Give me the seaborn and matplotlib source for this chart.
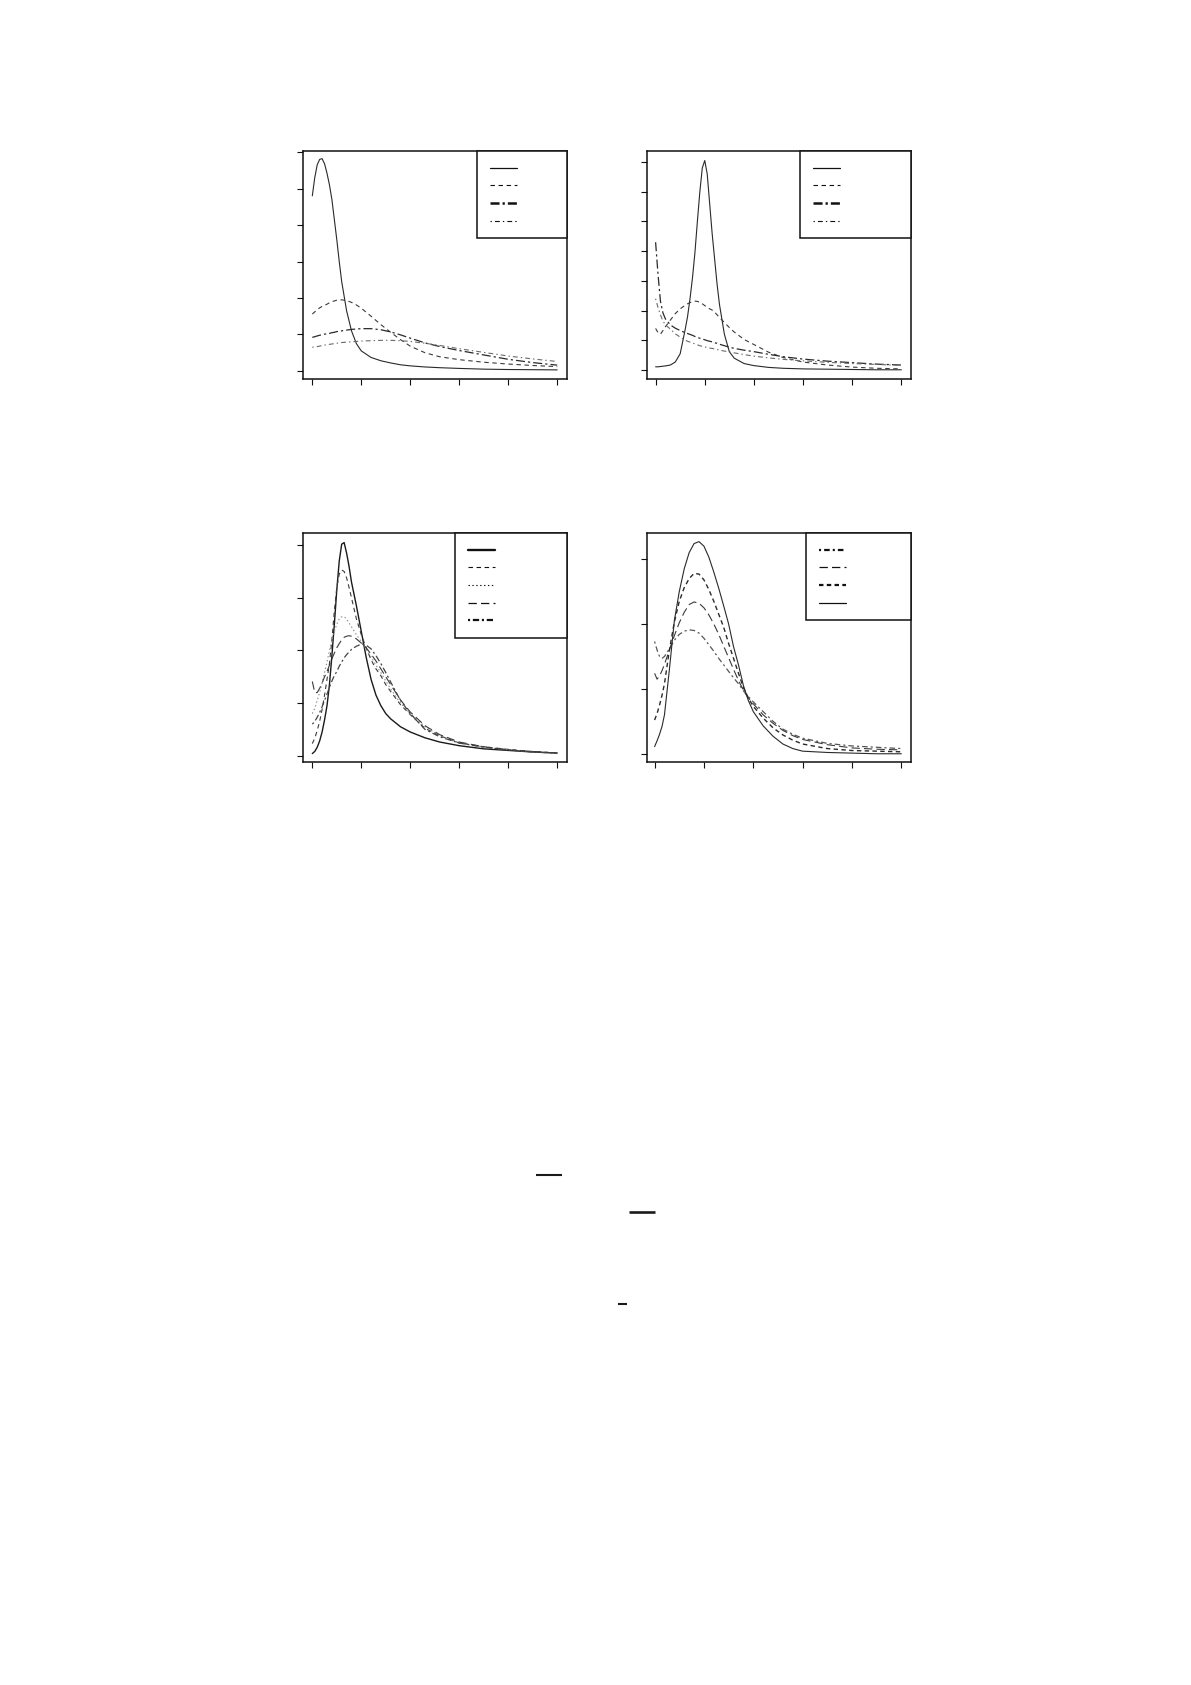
import matplotlib
matplotlib.use("Agg")
import matplotlib.pyplot as plt
from matplotlib.patches import Rectangle
from matplotlib.lines import Line2D
import seaborn as sns
import numpy as np

sns.set_style("ticks")
plt.rcParams["lines.scale_dashes"] = False

W, H = 1191, 1685

# ---- data (x and y in tick units, no labels survive) ----
# panel 1 (top left)
p1_x = [0, 0.05, 0.1, 0.15, 0.2, 0.25, 0.3, 0.35, 0.4, 0.45, 0.5, 0.55, 0.6, 0.7, 0.8,
        0.9, 1.0, 1.2, 1.4, 1.6, 1.8, 2.0, 2.3, 2.6, 3.0, 3.5, 4.0, 4.5, 5.0]
p1_solid = [4.80, 5.30, 5.65, 5.80, 5.82, 5.68, 5.42, 5.10, 4.70, 4.15, 3.60, 3.00, 2.45, 1.65, 1.10,
            0.75, 0.55, 0.37, 0.28, 0.22, 0.17, 0.14, 0.11, 0.09, 0.07, 0.05, 0.04, 0.035, 0.03]
p1_dash = [1.56, 1.62, 1.68, 1.73, 1.77, 1.80, 1.83, 1.87, 1.90, 1.92, 1.94, 1.95, 1.95, 1.93, 1.88,
           1.81, 1.72, 1.50, 1.27, 1.06, 0.86, 0.68, 0.50, 0.39, 0.31, 0.24, 0.19, 0.15, 0.12]
p1_long = [0.92, 0.94, 0.96, 0.98, 0.99, 1.01, 1.02, 1.03, 1.05, 1.06, 1.08, 1.09, 1.10, 1.12, 1.14,
           1.15, 1.16, 1.16, 1.13, 1.07, 0.99, 0.90, 0.77, 0.67, 0.56, 0.44, 0.32, 0.23, 0.16]
p1_dotdash = [0.65, 0.66, 0.67, 0.68, 0.70, 0.71, 0.72, 0.73, 0.74, 0.75, 0.76, 0.77, 0.78, 0.79, 0.80,
              0.81, 0.82, 0.83, 0.84, 0.84, 0.83, 0.81, 0.76, 0.70, 0.61, 0.51, 0.41, 0.33, 0.26]

# panel 2 (top right)
p2_x = [0, 0.05, 0.1, 0.15, 0.2, 0.3, 0.4, 0.5, 0.6, 0.65, 0.7, 0.75, 0.8, 0.85, 0.9, 0.95, 1.0,
        1.05, 1.1, 1.15, 1.2, 1.25, 1.3, 1.4, 1.5, 1.6, 1.8, 2.0, 2.3, 2.6, 3.0, 3.5, 4.0, 4.5, 5.0]
p2_solid = [0.11, 0.11, 0.12, 0.13, 0.14, 0.17, 0.27, 0.55, 1.35, 1.80, 2.40, 3.10, 3.95, 5.00, 6.00,
            6.80, 7.05, 6.60, 5.60, 4.60, 3.75, 2.90, 2.20, 1.20, 0.62, 0.40, 0.22, 0.15, 0.09, 0.06,
            0.04, 0.03, 0.02, 0.01, 0.01]
p2_dash = [1.40, 1.26, 1.21, 1.33, 1.46, 1.68, 1.90, 2.06, 2.18, 2.23, 2.27, 2.30, 2.32, 2.31, 2.28,
           2.23, 2.17, 2.11, 2.06, 2.02, 1.95, 1.86, 1.77, 1.60, 1.43, 1.28, 1.03, 0.86, 0.60, 0.42,
           0.27, 0.17, 0.10, 0.06, 0.04]
p2_long = [4.30, 3.20, 2.30, 1.92, 1.72, 1.52, 1.41, 1.33, 1.26, 1.23, 1.20, 1.17, 1.13, 1.10, 1.07,
           1.04, 1.02, 0.99, 0.97, 0.95, 0.92, 0.90, 0.87, 0.82, 0.77, 0.73, 0.67, 0.62, 0.53, 0.45,
           0.37, 0.30, 0.25, 0.20, 0.17]
p2_dotdash = [2.40, 2.10, 1.85, 1.65, 1.52, 1.38, 1.22, 1.11, 1.01, 0.97, 0.94, 0.91, 0.88, 0.85, 0.82,
              0.80, 0.78, 0.76, 0.74, 0.73, 0.71, 0.69, 0.67, 0.64, 0.61, 0.58, 0.52, 0.47, 0.41, 0.36,
              0.31, 0.26, 0.22, 0.19, 0.16]

# panel 3 (bottom left)
p3_x = [0, 0.05, 0.1, 0.15, 0.2, 0.25, 0.3, 0.35, 0.4, 0.45, 0.5, 0.55, 0.6, 0.65, 0.7, 0.75, 0.8,
        0.9, 1.0, 1.1, 1.2, 1.3, 1.4, 1.5, 1.6, 1.8, 2.0, 2.3, 2.6, 3.0, 3.5, 4.0, 4.5, 5.0]
p3_solid = [0.04, 0.08, 0.16, 0.28, 0.45, 0.68, 0.95, 1.35, 1.90, 2.50, 3.15, 3.70, 4.02, 4.05, 3.85,
            3.60, 3.30, 2.85, 2.36, 1.87, 1.45, 1.15, 0.95, 0.80, 0.70, 0.55, 0.45, 0.34, 0.26, 0.19,
            0.13, 0.10, 0.07, 0.05]
p3_dash = [0.23, 0.33, 0.48, 0.65, 0.88, 1.15, 1.45, 1.75, 2.20, 2.75, 3.20, 3.45, 3.53, 3.50, 3.38,
           3.20, 3.00, 2.60, 2.30, 2.05, 1.82, 1.65, 1.52, 1.35, 1.22, 0.97, 0.78, 0.52, 0.38, 0.24,
           0.17, 0.12, 0.08, 0.05]
p3_dot = [0.80, 0.90, 1.05, 1.20, 1.38, 1.58, 1.78, 2.00, 2.18, 2.36, 2.50, 2.60, 2.64, 2.64, 2.60,
          2.52, 2.45, 2.30, 2.17, 2.02, 1.88, 1.72, 1.58, 1.42, 1.27, 1.00, 0.80, 0.55, 0.38, 0.25,
          0.16, 0.11, 0.07, 0.04]
p3_long = [1.41, 1.20, 1.20, 1.28, 1.38, 1.50, 1.60, 1.72, 1.84, 1.95, 2.05, 2.13, 2.20, 2.25, 2.27,
           2.28, 2.27, 2.22, 2.14, 2.05, 1.93, 1.80, 1.65, 1.50, 1.35, 1.06, 0.83, 0.57, 0.40, 0.26,
           0.17, 0.11, 0.08, 0.05]
p3_twodash = [0.60, 0.65, 0.73, 0.82, 0.93, 1.05, 1.17, 1.30, 1.42, 1.52, 1.60, 1.70, 1.78, 1.86, 1.92,
              1.97, 2.02, 2.08, 2.12, 2.10, 2.03, 1.90, 1.75, 1.58, 1.40, 1.05, 0.80, 0.50, 0.36, 0.24,
              0.16, 0.11, 0.07, 0.05]

# panel 4 (bottom right)
p4_x = [0, 0.05, 0.1, 0.15, 0.2, 0.3, 0.4, 0.5, 0.6, 0.7, 0.8, 0.9, 1.0, 1.1, 1.2, 1.3, 1.4, 1.5,
        1.6, 1.7, 1.8, 1.9, 2.0, 2.2, 2.4, 2.6, 2.8, 3.0, 3.5, 4.0, 4.5, 5.0]
p4_dotdash = [1.73, 1.60, 1.50, 1.47, 1.50, 1.62, 1.75, 1.84, 1.89, 1.91, 1.90, 1.86, 1.78, 1.68, 1.58,
              1.47, 1.37, 1.27, 1.17, 1.08, 0.97, 0.88, 0.80, 0.65, 0.50, 0.38, 0.30, 0.24, 0.16, 0.12,
              0.10, 0.08]
p4_long = [1.24, 1.15, 1.20, 1.28, 1.38, 1.60, 1.82, 2.02, 2.18, 2.30, 2.34, 2.32, 2.25, 2.14, 2.00,
           1.84, 1.66, 1.48, 1.30, 1.13, 0.98, 0.86, 0.77, 0.60, 0.47, 0.36, 0.28, 0.22, 0.14, 0.09,
           0.07, 0.06]
p4_dash = [0.52, 0.62, 0.75, 0.90, 1.08, 1.60, 2.03, 2.35, 2.56, 2.70, 2.78, 2.77, 2.68, 2.53, 2.35,
           2.15, 1.95, 1.70, 1.47, 1.24, 1.02, 0.86, 0.73, 0.55, 0.40, 0.29, 0.21, 0.15, 0.08, 0.05,
           0.04, 0.03]
p4_solid = [0.11, 0.20, 0.30, 0.42, 0.60, 1.30, 2.05, 2.50, 2.85, 3.10, 3.24, 3.27, 3.20, 3.03, 2.80,
            2.55, 2.28, 2.00, 1.65, 1.37, 1.05, 0.82, 0.65, 0.43, 0.27, 0.15, 0.08, 0.04, 0.02, 0.01,
            0.0, 0.0]

x_ticks = [0, 1, 2, 3, 4, 5]
p1_yticks = [0, 1, 2, 3, 4, 5, 6]
p2_yticks = [0, 1, 2, 3, 4, 5, 6, 7]
p3_yticks = [0, 1, 2, 3, 4]
p4_yticks = [0, 1, 2, 3]

# ---- line styles (dash patterns in points) ----
SOLID = dict(linestyle="-", color="#2a2a2a", linewidth=0.8)
SOLID_B = dict(linestyle="-", color="#1a1a1a", linewidth=1.0)
DASH = dict(linestyle=(0, (3.2, 2.6)), color="#3a3a3a", linewidth=0.8)
DASH_B = dict(linestyle=(0, (3.2, 2.4)), color="#2a2a2a", linewidth=1.0)
LONGDOT_B = dict(linestyle=(0, (6.5, 2.2, 1.6, 2.2)), color="#2a2a2a", linewidth=0.9)
DOTDASH = dict(linestyle=(0, (1.0, 2.2, 3.5, 2.2)), color="#6a6a6a", linewidth=0.8)
DOT = dict(linestyle=(0, (1.0, 1.8)), color="#8a8a8a", linewidth=0.8)
LONG = dict(linestyle=(0, (6.0, 3.0)), color="#3a3a3a", linewidth=0.8)
TWODASH_B = dict(linestyle=(0, (1.5, 2.0, 4.5, 2.0)), color="#444444", linewidth=0.9)
DOTDASH_B = dict(linestyle=(0, (1.5, 2.2, 4.0, 2.2)), color="#555555", linewidth=0.9)


# legend key look (thicker than curves, as on the scan)
def key_style(st, lw):
    s = dict(st)
    s["linewidth"] = lw
    s["color"] = "#111111"
    return s


panels = [
    dict(box=(303, 151, 567, 379), x=p1_x, yticks=p1_yticks, xlim=(-0.19, 5.20), ylim=(-0.22, 6.03),
         curves=[(p1_solid, SOLID), (p1_dash, DASH), (p1_long, LONGDOT_B), (p1_dotdash, DOTDASH)],
         keys=[key_style(SOLID, 0.9), key_style(DASH, 0.8), key_style(LONGDOT_B, 1.8), key_style(DOTDASH, 0.8)],
         leg_w=90),
    dict(box=(647, 151, 911, 379), x=p2_x, yticks=p2_yticks, xlim=(-0.175, 5.196), ylim=(-0.30, 7.37),
         curves=[(p2_solid, SOLID), (p2_dash, DASH), (p2_long, LONGDOT_B), (p2_dotdash, DOTDASH)],
         keys=[key_style(SOLID, 0.9), key_style(DASH, 0.8), key_style(LONGDOT_B, 1.8), key_style(DOTDASH, 0.8)],
         leg_w=111),
    dict(box=(303, 533, 567, 762), x=p3_x, yticks=p3_yticks, xlim=(-0.19, 5.20), ylim=(-0.12, 4.232),
         curves=[(p3_solid, SOLID_B), (p3_dash, DASH), (p3_dot, DOT), (p3_long, LONG), (p3_twodash, TWODASH_B)],
         keys=[key_style(SOLID_B, 1.7), key_style(DASH, 0.8), key_style(DOT, 0.8), key_style(LONG, 0.9),
               key_style(TWODASH_B, 1.6)],
         leg_w=112),
    dict(box=(647, 533, 911, 762), x=p4_x, yticks=p4_yticks, xlim=(-0.154, 5.196), ylim=(-0.127, 3.403),
         curves=[(p4_dotdash, DOTDASH_B), (p4_long, LONG), (p4_dash, DASH_B), (p4_solid, SOLID)],
         keys=[key_style(DOTDASH_B, 1.6), key_style(LONG, 0.9), key_style(DASH_B, 1.6), key_style(SOLID, 0.9)],
         leg_w=105),
]

fig = plt.figure(figsize=(W / 100, H / 100), dpi=100)
fig.patch.set_facecolor("white")

for p in panels:
    L, T, R, B = p["box"]
    ax = fig.add_axes([L / W, 1 - B / H, (R - L) / W, (B - T) / H])
    for ys, st in p["curves"]:
        sns.lineplot(x=p["x"], y=ys, ax=ax, sort=False, errorbar=None, **st)
    ax.set_xlim(*p["xlim"])
    ax.set_ylim(*p["ylim"])
    ax.set_xticks(x_ticks)
    ax.set_yticks(p["yticks"])
    ax.tick_params(direction="out", length=4.6, width=0.8, color="#111111",
                   labelbottom=False, labelleft=False, top=False, right=False)
    ax.set_xlabel("")
    ax.set_ylabel("")
    for s in ax.spines.values():
        s.set_visible(True)
        s.set_linewidth(1.1)
        s.set_color("#111111")
    ax.set_facecolor("white")

    # legend box with blank labels (the text did not survive on the scan)
    def to_ax(px, py):
        return (px - L) / (R - L), (B - py) / (B - T)

    n = len(p["keys"])
    lx0 = R - p["leg_w"]
    ly1 = T + 17.6 * n + 17
    ax0, ay0 = to_ax(lx0, ly1)
    ax.add_patch(Rectangle((ax0, ay0), 1 - ax0, 1 - ay0, transform=ax.transAxes,
                           facecolor="white", edgecolor="#111111", linewidth=1.1, zorder=5,
                           clip_on=False))
    for i, ks in enumerate(p["keys"]):
        ky = T + 16.8 + 17.6 * i
        a, yy = to_ax(lx0 + 12.5, ky)
        b, _ = to_ax(lx0 + 40, ky)
        ax.add_line(Line2D([a, b], [yy, yy], transform=ax.transAxes, zorder=6, **ks))

# leftover rules from the equations further down the page
rules = [((536, 562, 1175), 1.5), ((629, 655, 1211.5), 1.9), ((618, 627, 1304), 1.5)]
for (x0, x1, y), lw in rules:
    fig.add_artist(Line2D([x0 / W, x1 / W], [1 - y / H, 1 - y / H], transform=fig.transFigure,
                          color="#1a1a1a", linewidth=lw, solid_capstyle="butt"))

fig.savefig("out.png", dpi=100, facecolor="white")
